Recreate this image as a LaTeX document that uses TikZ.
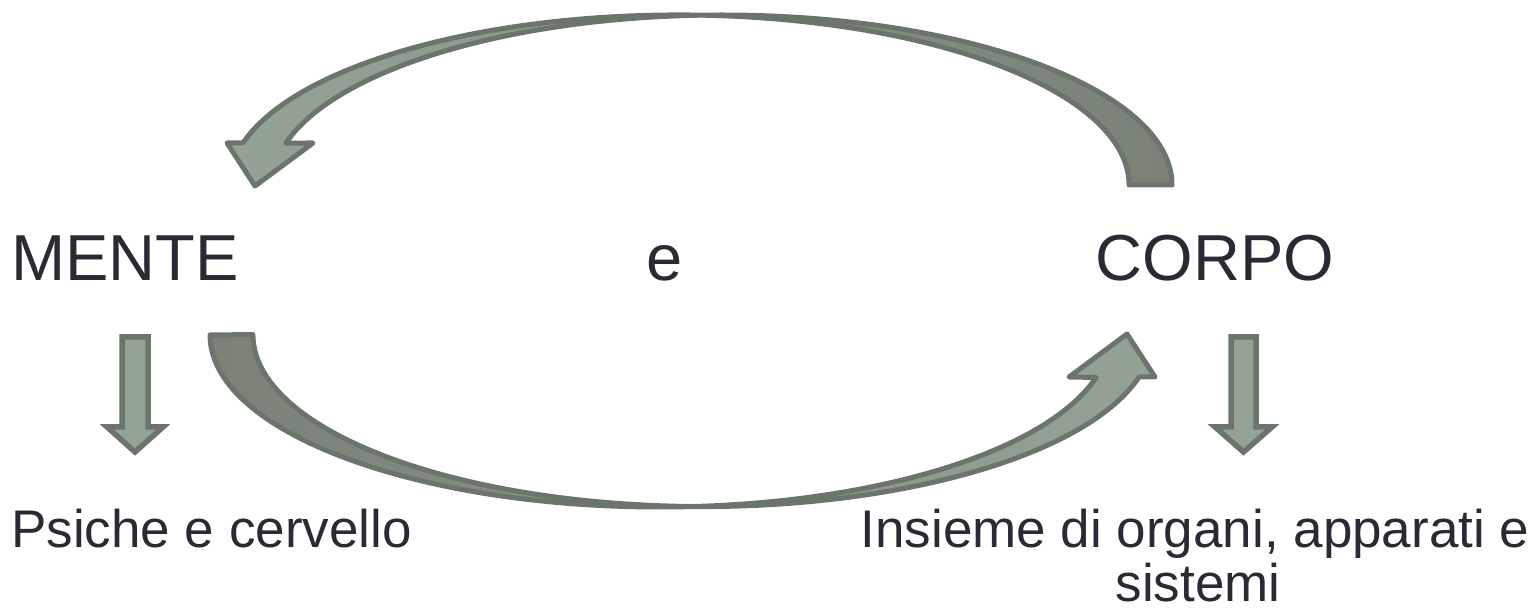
\documentclass[tikz,border=0pt]{standalone}
\usepackage{fontspec}
\setmainfont{Liberation Sans}
\definecolor{edge}{RGB}{107,117,107}
\definecolor{headfill}{RGB}{149,163,150}
\definecolor{tailfill}{RGB}{122,130,120}
\definecolor{ink}{RGB}{42,42,52}
\begin{document}
\begin{tikzpicture}[x=1pt,y=1pt,
  bent/.style={draw=edge, line width=5pt, line join=round},
  drop/.style={draw=edge, fill=headfill, line width=5.5pt, line join=miter},
  big/.style={font=\fontsize{65}{72}\selectfont, text=ink, inner sep=0pt},
  small/.style={font=\fontsize{53}{60}\selectfont, text=ink, inner sep=0pt}]
\useasboundingbox (0,0) rectangle (1532,611);

% labels
\node[big, anchor=base west] (mente) at (11,330) {MENTE};
\node[big, anchor=base] (e) at (665,330) {e};
\node[big, anchor=base] (corpo) at (1215,330) {CORPO};
\node[small, anchor=base west] (psiche) at (11,64) {Psiche e cervello};
\node[small, anchor=base] (insieme) at (1195,64) {Insieme di organi, apparati e};
\node[small, anchor=base] (sistemi) at (1198,10) {sistemi};

% upper bent arrow: from CORPO back to MENTE
\path[bent, left color=headfill, right color=tailfill]
  (1172,426) arc[start angle=0, end angle=165.7, x radius=450, y radius=170]
  -- (313,468) -- (255,425) -- (227,468) -- (243,468)
  arc[start angle=165.7, end angle=0, x radius=450, y radius=170]
  -- cycle;

% lower bent arrow: from MENTE to CORPO
\path[bent, left color=tailfill, right color=headfill]
  (210,276) arc[start angle=180, end angle=345.7, x radius=450, y radius=172]
  -- (1069,234) -- (1127,277) -- (1155,234) -- (1139,234)
  arc[start angle=345.7, end angle=180, x radius=450, y radius=172]
  -- cycle;

% straight down arrows
\path[drop] (122,274) -- (148,274) -- (148,184) -- (163,184) -- (135,159)
  -- (107,184) -- (122,184) -- cycle;
\path[drop] (1231,274) -- (1256,274) -- (1256,184) -- (1272,184) -- (1243.5,159)
  -- (1215,184) -- (1231,184) -- cycle;
\end{tikzpicture}
\end{document}
